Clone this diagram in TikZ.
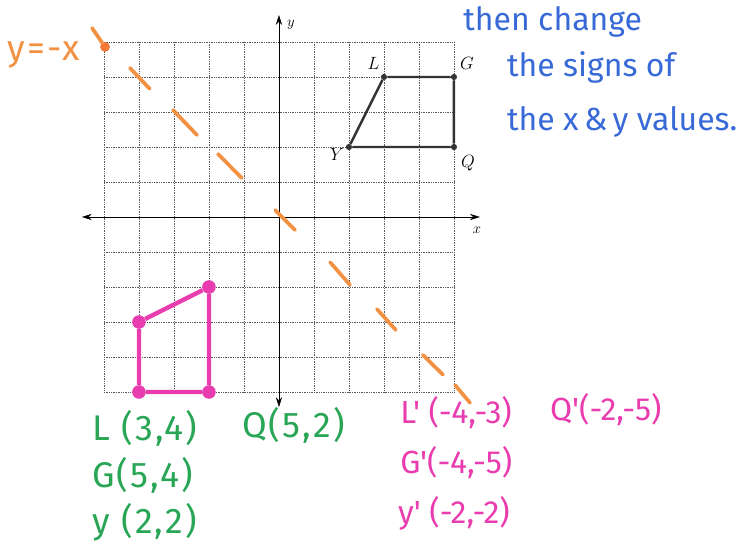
\documentclass[tikz,border=0pt]{standalone}
\usepackage{fontspec}
\setmainfont{Fira Sans}[LetterSpace=6]
\newfontfamily\bluehand{Fira Sans}
\usetikzlibrary{arrows.meta}
\definecolor{hgreen}{RGB}{40,165,85}
\definecolor{hpink}{RGB}{232,60,175}
\definecolor{hblue}{RGB}{55,105,215}
\definecolor{horange}{RGB}{242,145,65}
\begin{document}
\begin{tikzpicture}
\tikzset{pt/.style={circle,fill,inner sep=0pt,minimum size=5pt},
 pinkpt/.style={pt,hpink,minimum size=11pt},
 vlabel/.style={font=\Large},
 hand/.style={font=\fontsize{29}{32}\selectfont,anchor=west,inner sep=0pt},
 note/.style={hand,hblue,font=\bluehand\fontsize{26}{28}\selectfont},
 pinknote/.style={hand,hpink,font=\bluehand\fontsize{26}{28}\selectfont},
 orangemark/.style={horange,line width=3pt,line cap=round}}
\useasboundingbox (-7.97,-9.6) rectangle (13.43,6.2);
\draw[densely dotted,black!65] (-5,-5) grid (5,5);
\coordinate (xl) at (-5.63,0); \coordinate (xr) at (5.74,0);
\coordinate (yb) at (0,-5.43); \coordinate (yt) at (0,5.77);
\draw[{Stealth[length=8pt,width=5pt]}-{Stealth[length=8pt,width=5pt]}] (xl) -- (xr);
\draw[{Stealth[length=8pt,width=5pt]}-{Stealth[length=8pt,width=5pt]}] (yb) -- (yt);
\path (5.66,-0.37) node[font=\large] (xlab) {$x$};
\path (0.34,5.49) node[font=\large] (ylab) {$y$};
\foreach \n/\x/\y in {L/3/4, G/5/4, Q/5/2, Y/2/2}{
\path (\x,\y) node[pt,black!80] (\n) {};}
\draw[black!80,line width=2pt] (L) -- (G) -- (Q) -- (Y) -- (L);
\path (L)+(-0.3,0.38) node[vlabel] {$L$};
\path (G)+(0.37,0.38) node[vlabel] {$G$};
\path (Q)+(0.4,-0.45) node[vlabel] {$Q$};
\path (Y)+(-0.34,-0.2) node[vlabel] {$Y$};
\foreach \n/\x/\y in {Lp/-4/-3, Gp/-4/-5, Qp/-2/-5, Yp/-2/-2}{
\path (\x,\y) node[pinkpt] (\n) {};}
\draw[hpink,line width=3.5pt] (Lp) -- (Yp) -- (Qp) -- (Gp) -- (Lp);
\foreach \a/\b/\c/\d in {-4.26/4.26/-3.69/3.66, -3.03/3.06/-2.34/2.34, -1.74/1.8/-1.06/1.11,
 -0.11/0.2/0.46/-0.37, 1.46/-1.29/2.03/-1.94, 2.8/-2.63/3.34/-3.23,
 4.11/-3.94/4.69/-4.51, 5.03/-4.8/5.46/-5.31}{
\draw[orangemark] (\a,\b) -- (\c,\d);}
\path (-4.97,4.86) node[circle,fill=horange!85!red,inner sep=0pt,minimum size=8pt] (corner) {};
\coordinate (tick) at (-5.34,5.4);
\draw[orangemark] (tick) -- (corner);
\path (-7.75,4.63) node[hand,horange] (yeq) {y=-x};
\path (5.26,5.57) node[note] (t1) {then change};
\path (6.51,4.26) node[note] (t2) {the signs of};
\path (6.51,2.71) node[note] (t3) {the x\,\&\,y values.};
\path (-5.34,-6.03) node[hand,hgreen] (gl) {L (3,4)};
\path (-1.06,-5.94) node[hand,hgreen] (gq) {Q(5,2)};
\path (-5.34,-7.37) node[hand,hgreen] (gg) {G(5,4)};
\path (-5.34,-8.71) node[hand,hgreen] (gy) {y (2,2)};
\path (3.46,-5.6) node[pinknote] (pl) {L' (-4,-3)};
\path (7.74,-5.51) node[pinknote] (pq) {Q'(-2,-5)};
\path (3.46,-7.03) node[pinknote] (pg) {G'(-4,-5)};
\path (3.4,-8.46) node[pinknote] (py) {y' (-2,-2)};
\end{tikzpicture}
\end{document}
